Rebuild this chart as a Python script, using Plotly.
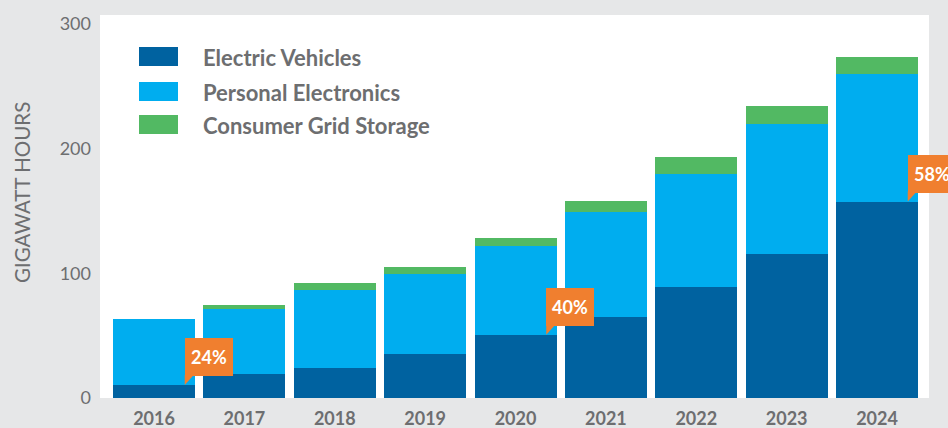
import plotly.graph_objects as go

years = ["2016", "2017", "2018", "2019", "2020", "2021", "2022", "2023", "2024"]
electric_vehicles = [10.5, 19.3, 24.1, 35.4, 50.7, 65.1, 89.3, 115.8, 157.6]
personal_electronics = [53.0, 52.3, 62.8, 64.3, 71.6, 83.7, 90.1, 103.8, 102.2]
grid_storage = [0.0, 3.2, 5.6, 5.7, 6.4, 9.6, 13.6, 14.4, 13.7]
series_names = ["Electric Vehicles", "Personal Electronics", "Consumer Grid Storage"]
series_colors = ["#0062a0", "#00adef", "#52b963"]
callout_years = ["2016", "2020", "2024"]
callout_text = ["24%", "40%", "58%"]
y_ticks = [0, 100, 200, 300]

GRAY = "#6d6e70"
ORANGE = "#f07f2f"
FONT = "Lato"

fig = go.Figure()
for name, vals, col in zip(series_names, [electric_vehicles, personal_electronics, grid_storage], series_colors):
    fig.add_trace(go.Bar(x=years, y=vals, name=name, marker=dict(color=col, line=dict(width=0)),
                         showlegend=False))

L, R, T, B = 100, 19, 15, 30
W, H = 948, 428
pw, ph = W - L - R, H - T - B

def px(x):
    return (x - L) / pw

def py(y):
    return (H - B - y) / ph

# manual legend
rows = [(47, 66, 57), (82, 101, 92), (115, 134, 125)]
for (y0, y1, yc), name, col in zip(rows, series_names, series_colors):
    fig.add_shape(type="rect", xref="paper", yref="paper", x0=px(139), x1=px(178),
                  y0=py(y1), y1=py(y0), fillcolor=col, line=dict(width=0), layer="above")
    fig.add_annotation(xref="paper", yref="paper", x=px(201), y=py(yc), text=name,
                       showarrow=False, xanchor="left", yanchor="middle",
                       font=dict(family=FONT, size=22, color=GRAY, weight="bold"))

# callouts
for yr, txt in zip(callout_years, callout_text):
    i = years.index(yr)
    xa = i + 0.34
    ya = electric_vehicles[i]
    fig.add_shape(type="path", xref="x", yref="y", xsizemode="pixel", ysizemode="pixel",
                  xanchor=xa, yanchor=ya, path="M 0,0 L 0,10 L 9,10 Z",
                  fillcolor=ORANGE, line=dict(width=0), layer="above")
    fig.add_annotation(x=xa, y=ya, xref="x", yref="y", text="<b>" + txt + "</b>", showarrow=False,
                       xanchor="left", yanchor="bottom", yshift=9, width=48, height=38,
                       bgcolor=ORANGE, borderpad=0, borderwidth=0,
                       font=dict(family=FONT, size=18, color="white"))

fig.add_annotation(xref="paper", yref="paper", x=px(22), y=py(193), text="GIGAWATT HOURS",
                   textangle=-90, showarrow=False, xanchor="center", yanchor="middle",
                   font=dict(family=FONT, size=20.5, color=GRAY))

fig.update_layout(
    width=W, height=H, barmode="stack", bargap=0.093,
    margin=dict(l=L, r=R, t=T, b=B, autoexpand=False),
    paper_bgcolor="#e6e7e8", plot_bgcolor="white",
    showlegend=False,
    xaxis=dict(type="category", range=[-0.5975, 8.575], showgrid=False, zeroline=False,
               showline=False, ticks="", ticklabelstandoff=8,
               tickfont=dict(family=FONT, size=18, color=GRAY, weight="bold")),
    yaxis=dict(range=[0, 307.2], tickvals=y_ticks, showgrid=False, zeroline=False,
               showline=False, ticks="", ticklabelstandoff=8,
               tickfont=dict(family=FONT, size=18, color=GRAY)),
)

fig.write_html("out.html", config={"displayModeBar": False},
               post_script="document.body.style.margin='0';document.body.style.overflow='hidden';")
